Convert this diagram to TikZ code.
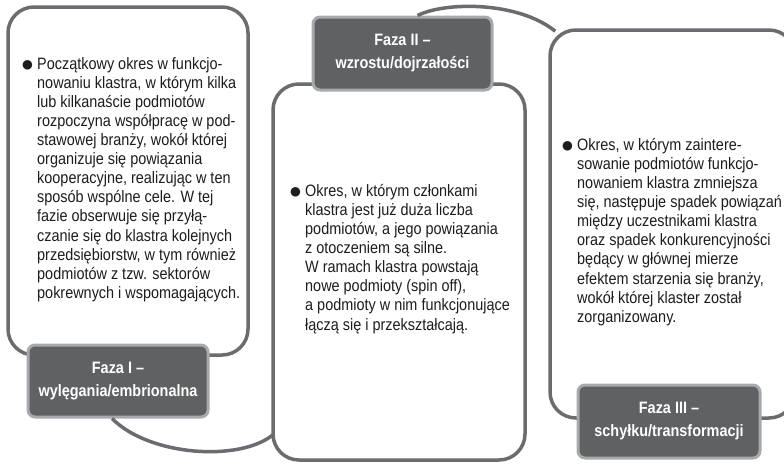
\documentclass[tikz,border=0pt]{standalone}
\usepackage{fontspec}
\setmainfont{Liberation Sans}[FakeStretch=0.875]
\newfontfamily\kropkafont{Liberation Sans}
\usepackage{tikz}
\usetikzlibrary{positioning, calc}
\definecolor{ramka}{HTML}{6B6C6F}
\definecolor{etykieta}{HTML}{606163}
\definecolor{obrys}{HTML}{A7A9AC}
\definecolor{tekst}{HTML}{1E1C1D}
\newcommand{\kropka}{\llap{\raisebox{-2pt}{\kropkafont\fontsize{22}{22}\selectfont ●}\hspace{3pt}}}

\begin{document}
\begin{tikzpicture}[
    x=1pt, y=-1pt,
    faza/.style={rectangle, rounded corners=26pt, draw=ramka, line width=3.5pt,
        inner sep=0pt},
    etyk/.style={rectangle, rounded corners=7pt, draw=obrys, fill=etykieta,
        line width=3pt, minimum width=180pt, minimum height=72pt, inner sep=0pt,
        align=center, text=white, font=\fontsize{16.5}{23}\selectfont\bfseries},
    opis/.style={anchor=north west, inner sep=0pt, align=left, text=tekst,
        font=\fontsize{16.5}{19.1}\selectfont},
    lacz/.style={draw=ramka, line width=3.5pt}
]
\useasboundingbox (0,0) rectangle (784,466);

\node[faza, minimum width=240pt, minimum height=348pt] (b1) at (128,181) {};
\node[faza, minimum width=252pt, minimum height=376pt] (b2) at (399,272) {};
\node[faza, minimum width=245pt, minimum height=388pt] (b3) at (672.5,224) {};

\node[opis] (t1) at (37,57) {\kropka Początkowy okres w funkcjo-\\
    nowaniu klastra, w którym kilka\\
    lub kilkanaście podmiotów\\
    rozpoczyna współpracę w pod-\\
    stawowej branży, wokół której\\
    organizuje się powiązania\\
    kooperacyjne, realizując w ten\\
    sposób wspólne cele. W tej\\
    fazie obserwuje się przyłą-\\
    czanie się do klastra kolejnych\\
    przedsiębiorstw, w tym również\\
    podmiotów z tzw. sektorów\\
    pokrewnych i wspomagających.};

\node[opis] (t2) at (305,184) {\kropka Okres, w którym członkami\\
    klastra jest już duża liczba\\
    podmiotów, a jego powiązania\\
    z otoczeniem są silne.\\
    W ramach klastra powstają\\
    nowe podmioty (spin off),\\
    a podmioty w nim funkcjonujące\\
    łączą się i przekształcają.};

\node[opis] (t3) at (577,138) {\kropka Okres, w którym zaintere-\\
    sowanie podmiotów funkcjo-\\
    nowaniem klastra zmniejsza\\
    się, następuje spadek powiązań\\
    między uczestnikami klastra\\
    oraz spadek konkurencyjności\\
    będący w głównej mierze\\
    efektem starzenia się branży,\\
    wokół której klaster został\\
    zorganizowany.};

\node[etyk] (f1) at (118,381) {Faza I –\\wylęgania/embrionalna};
\node[etyk, minimum width=179pt, minimum height=73pt] (f2) at (402.5,53.5)
    {Faza II –\\wzrostu/dojrzałości};
\node[etyk, minimum width=182pt, minimum height=73pt] (f3) at (669,421.5)
    {Faza III –\\schyłku/transformacji};

\draw[lacz] ($(f1.south)+(-6,0)$) .. controls +(38,38) and +(-33,27)
    .. ($(b2.south west)+(1.75,-27)$);
\draw[lacz] ($(f2.north)+(15,0)$) .. controls +(28,-14) and +(-37,-30)
    .. ($(b3.north west)+(7,3)$);
\end{tikzpicture}
\end{document}
